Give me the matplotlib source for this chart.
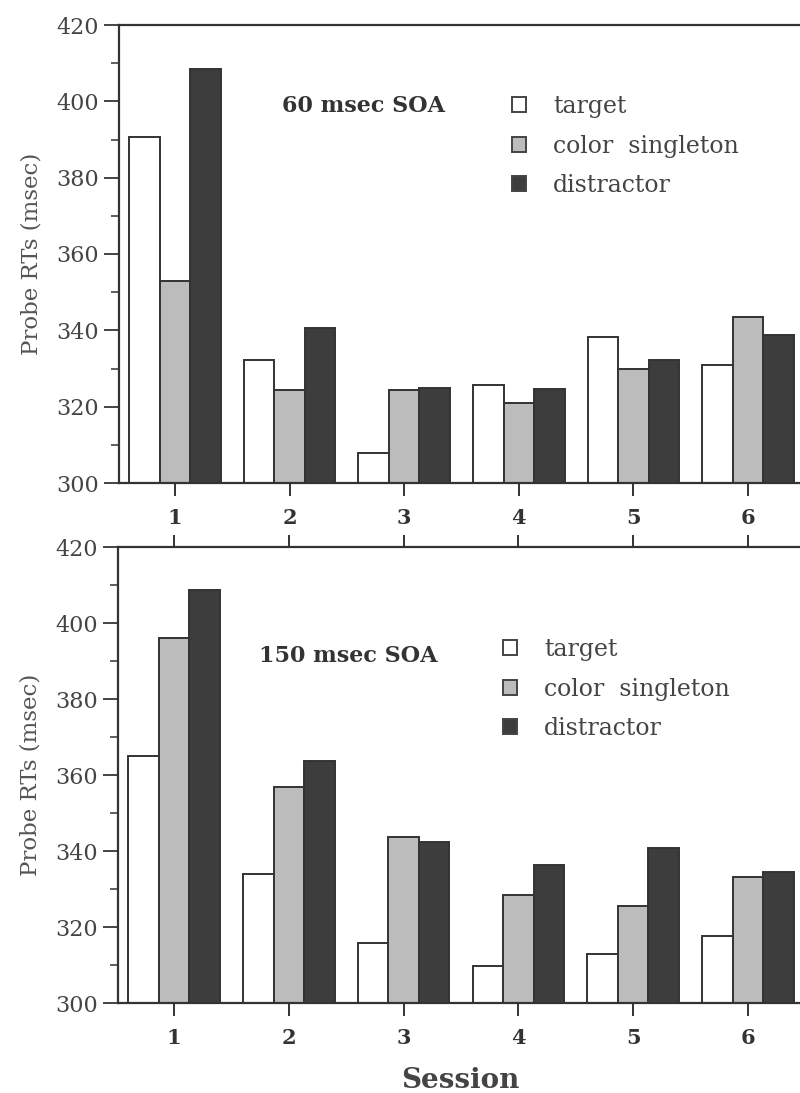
import matplotlib
matplotlib.use("Agg")
import matplotlib.pyplot as plt
from matplotlib.patches import Patch
from matplotlib.ticker import MultipleLocator

sessions = [1, 2, 3, 4, 5, 6]
series_names = ["target", "color  singleton", "distractor"]

soa60_target = [390.7, 332.2, 307.8, 325.6, 338.2, 331.0]
soa60_singleton = [352.9, 324.4, 324.4, 320.9, 329.8, 343.5]
soa60_distractor = [408.6, 340.5, 325.0, 324.6, 332.3, 338.9]

soa150_target = [365.0, 333.9, 315.9, 309.7, 312.9, 317.7]
soa150_singleton = [396.0, 356.9, 343.8, 328.3, 325.4, 333.1]
soa150_distractor = [408.7, 363.7, 342.3, 336.2, 340.7, 334.4]

panel_titles = ["60 msec SOA", "150 msec SOA"]
ylabel = "Probe RTs (msec)"
xlabel = "Session"

fills = ["#ffffff", "#bcbcbc", "#3d3d3d"]
edge = "#333333"
SERIF = ["DejaVu Serif"]

plt.rcParams["font.family"] = SERIF

W, H = 800, 1093
fig = plt.figure(figsize=(W / 100, H / 100), dpi=100)

def fx(px):
    return px / W

def fy(py):
    return 1 - py / H

ax_top = fig.add_axes([fx(119), fy(483), 1 - fx(119), fy(25) - fy(483)])
ax_bot = fig.add_axes([fx(118), fy(1003), 1 - fx(118), fy(547) - fy(1003)])

bw = 0.266
offsets = [-bw, 0, bw]

def draw(ax, data, title, title_xy, leg_xy, top_ticks):
    for off, vals, fc in zip(offsets, data, fills):
        ax.bar([s + off for s in sessions], [v - 300 for v in vals], bottom=300,
               width=bw, color=fc, edgecolor=edge, linewidth=1.4, zorder=2)
    ax.set_xlim(0.511, 6.454)
    ax.set_ylim(300, 420)
    ax.yaxis.set_major_locator(MultipleLocator(20))
    ax.yaxis.set_minor_locator(MultipleLocator(10))
    ax.set_xticks(sessions)
    ax.set_xticklabels([str(s) for s in sessions], fontweight="bold", fontsize=15, color="#333333")
    ax.tick_params(axis="x", direction="out", length=9, width=1.4, pad=9, colors="#333333",
                   top=top_ticks)
    ax.tick_params(axis="y", which="major", direction="out", length=11, width=1.4,
                   labelsize=16, colors="#444444", pad=3.5)
    ax.tick_params(axis="y", which="minor", direction="out", length=6, width=1.2, colors="#444444")
    for side in ["left", "bottom", "top"]:
        ax.spines[side].set_linewidth(1.6)
        ax.spines[side].set_color("#333333")
    ax.spines["right"].set_visible(False)
    ax.set_ylabel(ylabel, fontsize=16.5, color="#555555", labelpad=10)
    ax.text(title_xy[0], title_xy[1], title, transform=fig.transFigure, fontsize=16,
            fontweight="bold", color="#333333", va="center", ha="left")
    handles = [Patch(facecolor=fc, edgecolor="#444444", linewidth=1.4) for fc in fills]
    ax.legend(handles, series_names, loc="upper left", bbox_to_anchor=leg_xy,
              bbox_transform=fig.transFigure, frameon=False, fontsize=17,
              handlelength=0.6, handleheight=0.6, handletextpad=1.15, labelspacing=0.7,
              borderpad=0, borderaxespad=0, labelcolor="#444444")

draw(ax_top, [soa60_target, soa60_singleton, soa60_distractor], panel_titles[0],
     (fx(282), fy(106)), (fx(512), fy(95)), False)
draw(ax_bot, [soa150_target, soa150_singleton, soa150_distractor], panel_titles[1],
     (fx(259), fy(656)), (fx(503), fy(638)), True)

fig.text(fx(460), fy(1080), xlabel, fontsize=20, fontweight="bold", color="#444444",
         ha="center", va="center")

fig.savefig("out.png", dpi=100)
